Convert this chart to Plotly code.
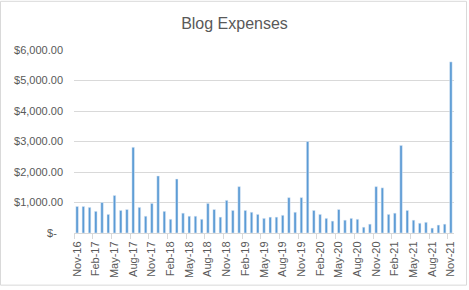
import plotly.graph_objects as go

months = [
    "Nov-16", "Dec-16", "Jan-17", "Feb-17", "Mar-17", "Apr-17", "May-17", "Jun-17", "Jul-17", "Aug-17",
    "Sep-17", "Oct-17", "Nov-17", "Dec-17", "Jan-18", "Feb-18", "Mar-18", "Apr-18", "May-18", "Jun-18",
    "Jul-18", "Aug-18", "Sep-18", "Oct-18", "Nov-18", "Dec-18", "Jan-19", "Feb-19", "Mar-19", "Apr-19",
    "May-19", "Jun-19", "Jul-19", "Aug-19", "Sep-19", "Oct-19", "Nov-19", "Dec-19", "Jan-20", "Feb-20",
    "Mar-20", "Apr-20", "May-20", "Jun-20", "Jul-20", "Aug-20", "Sep-20", "Oct-20", "Nov-20", "Dec-20",
    "Jan-21", "Feb-21", "Mar-21", "Apr-21", "May-21", "Jun-21", "Jul-21", "Aug-21", "Sep-21", "Oct-21",
    "Nov-21",
]
expenses = [
    870, 870, 840, 710, 1000, 610, 1230, 740, 770, 2810,
    840, 550, 970, 1870, 710, 450, 1770, 650, 550, 550,
    450, 970, 770, 520, 1070, 740, 1520, 740, 680, 610,
    480, 520, 520, 580, 1160, 680, 1160, 3000, 740, 610,
    480, 390, 770, 420, 480, 450, 190, 290, 1520, 1480,
    610, 650, 2870, 740, 420, 320, 350, 160, 260, 290,
    5610,
]
y_ticks = [0, 1000, 2000, 3000, 4000, 5000, 6000]
y_tick_text = ["$-\u00a0\u00a0", "$1,000.00", "$2,000.00", "$3,000.00", "$4,000.00", "$5,000.00", "$6,000.00"]

label_months = months[::3]
boundaries = [i - 0.5 for i in range(0, len(months), 3)]

TEXT = "#595959"
GRID = "#d9d9d9"
FONT = "Liberation Sans, Arial, sans-serif"

fig = go.Figure()
fig.add_trace(go.Bar(x=months, y=expenses, marker_color="#5b9bd5", width=0.4))
fig.add_trace(go.Scatter(x=[boundaries[0]], y=[None], xaxis="x2", showlegend=False,
                         hoverinfo="skip", mode="markers"))

fig.update_layout(
    width=469, height=290,
    margin=dict(l=74, r=15, t=50, b=54),
    paper_bgcolor="white", plot_bgcolor="white",
    showlegend=False,
    font=dict(family=FONT, color=TEXT, size=11),
    title=dict(text="Blog Expenses", x=0.5, xref="container", xanchor="center",
               y=1 - 23 / 290, yref="container", yanchor="middle",
               font=dict(family=FONT, size=16, color=TEXT)),
    xaxis=dict(type="category", categoryorder="array", categoryarray=months,
               range=[-0.5, len(months) - 0.5],
               tickmode="array", tickvals=label_months, ticktext=label_months,
               tickangle=-90, ticks="", showgrid=False, zeroline=False,
               showline=True, linecolor=GRID, linewidth=1,
               ticklabelstandoff=3,
               tickfont=dict(size=11, color=TEXT)),
    xaxis2=dict(overlaying="x", anchor="y", side="bottom",
                range=[-0.5, len(months) - 0.5],
                tickmode="array", tickvals=boundaries, showticklabels=False,
                ticks="outside", ticklen=5, tickcolor=GRID, tickwidth=1,
                showgrid=False, zeroline=False, showline=False),
    yaxis=dict(range=[0, 6000], tickmode="array", tickvals=y_ticks, ticktext=y_tick_text,
               showgrid=True, gridcolor=GRID, gridwidth=1, zeroline=False,
               showline=False, ticks="", ticklen=0, ticklabelstandoff=10,
               tickfont=dict(size=11, color=TEXT)),
    shapes=[dict(type="rect", xref="paper", yref="paper",
                 x0=(0.5 - 74) / 380, x1=(466.5 - 74) / 380,
                 y0=(236 - 289) / 186, y1=(236 - 0.5) / 186,
                 line=dict(color=GRID, width=1), fillcolor="rgba(0,0,0,0)", layer="below")],
)

fig.write_html("out.html")
